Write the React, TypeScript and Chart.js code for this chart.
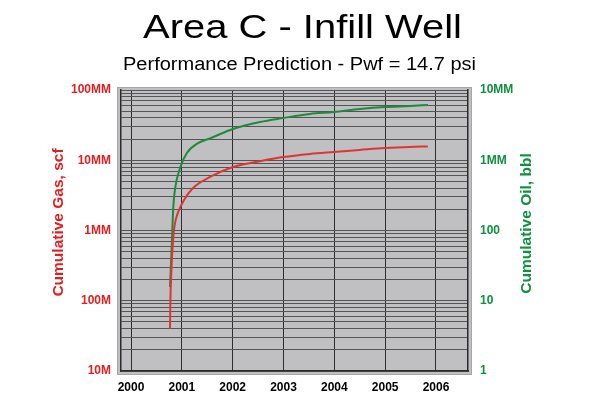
import React, { useEffect, useRef } from 'react';
import { Chart, registerables } from 'chart.js';

Chart.register(...registerables);

// ---------- Text ----------
const TITLE = 'Area C - Infill Well';
const SUBTITLE = 'Performance Prediction - Pwf = 14.7 psi';
const GAS_AXIS_TITLE = 'Cumulative Gas, scf';
const OIL_AXIS_TITLE = 'Cumulative Oil, bbl';

// ---------- Tick labels ----------
const YEAR_TICKS = [2000, 2001, 2002, 2003, 2004, 2005, 2006];
const GAS_TICK_VALUES = [1e4, 1e5, 1e6, 1e7, 1e8];
const GAS_TICK_LABELS = ['10M', '100M', '1MM', '10MM', '100MM'];
const OIL_TICK_VALUES = [1, 10, 100, 1000, 10000];
const OIL_TICK_LABELS = ['1', '10', '100', '1MM', '10MM'];
const MINOR_MULTIPLIERS = [1, 2, 3, 4, 5, 6, 7, 8, 9];

// ---------- Series ----------
const GAS_YEARS = [
  2000.767, 2000.775, 2000.791, 2000.815, 2000.846, 2000.879, 2000.919, 2001.043,
  2001.22, 2001.554, 2002.007, 2002.538, 2002.99, 2003.52, 2003.99, 2004.5,
  2004.99, 2005.48, 2005.84,
];
const GAS_VALUES = [
  4.0e4, 1.02e5, 2.32e5, 5.27e5, 1.02e6, 1.41e6, 1.77e6, 2.72e6,
  4.03e6, 5.78e6, 8.0e6, 9.7e6, 1.11e7, 1.23e7, 1.31e7, 1.4e7,
  1.49e7, 1.55e7, 1.57e7,
];

const OIL_YEARS = [
  2000.767, 2000.787, 2000.813, 2000.832, 2000.866, 2000.964, 2001.096,
  2001.318, 2001.554, 2002.007, 2002.538, 2002.99, 2003.52, 2003.99, 2004.505,
  2004.997, 2005.489, 2005.843,
];
const OIL_VALUES = [
  15.7, 34, 102, 216, 390, 775, 1260,
  1750, 2050, 2790, 3510, 3990, 4560, 4860, 5370,
  5730, 5920, 6110,
];

// ---------- Styles ----------
const FONT = '"Liberation Sans", Arial, Helvetica, sans-serif';
const RED_TEXT = '#e41e1e';
const GREEN_TEXT = '#0d923e';
const RED_LINE = '#e03434';
const GREEN_LINE = '#1f8a3c';
const PLOT_BG = '#c0c0c3';

function gridValues(decades: number[]): number[] {
  const out: number[] = [];
  for (let i = 0; i < decades.length - 1; i++) {
    for (const m of MINOR_MULTIPLIERS) out.push(decades[i] * m);
  }
  out.push(decades[decades.length - 1]);
  return out;
}

function drawStretched(
  ctx: CanvasRenderingContext2D,
  text: string,
  cx: number,
  baseline: number,
  font: string,
  targetWidth: number,
  color: string
) {
  ctx.save();
  ctx.font = font;
  const w = ctx.measureText(text).width;
  const sx = targetWidth / w;
  ctx.translate(cx, baseline);
  ctx.scale(sx, 1);
  ctx.fillStyle = color;
  ctx.textAlign = 'center';
  ctx.textBaseline = 'alphabetic';
  ctx.fillText(text, 0, 0);
  ctx.restore();
}

function drawVertical(
  ctx: CanvasRenderingContext2D,
  text: string,
  cx: number,
  cy: number,
  font: string,
  color: string
) {
  ctx.save();
  ctx.translate(cx, cy);
  ctx.rotate(-Math.PI / 2);
  ctx.font = font;
  ctx.fillStyle = color;
  ctx.textAlign = 'center';
  ctx.textBaseline = 'middle';
  ctx.fillText(text, 0, 0);
  ctx.restore();
}

const decorPlugin = {
  id: 'decor',
  beforeDraw(chart: any) {
    const { ctx, chartArea: a } = chart;
    ctx.save();
    ctx.fillStyle = '#ffffff';
    ctx.fillRect(0, 0, chart.width, chart.height);
    ctx.fillStyle = PLOT_BG;
    ctx.fillRect(a.left - 3, a.top - 2, a.right - a.left + 6, a.bottom - a.top + 5);
    ctx.strokeStyle = '#a6a6a6';
    ctx.lineWidth = 1;
    ctx.strokeRect(a.left - 3.5, a.top - 2.5, a.right - a.left + 7, a.bottom - a.top + 6);
    ctx.restore();
  },
  afterDraw(chart: any) {
    const { ctx } = chart;
    drawStretched(ctx, TITLE, 302.5, 38, `33px ${FONT}`, 319, '#000000');
    drawStretched(ctx, SUBTITLE, 299.5, 70, `18px ${FONT}`, 353, '#000000');
    drawVertical(ctx, GAS_AXIS_TITLE, 59, 222.5, `bold 15.5px ${FONT}`, RED_TEXT);
    drawVertical(ctx, OIL_AXIS_TITLE, 527, 223.5, `bold 15.5px ${FONT}`, GREEN_TEXT);
  },
};

export default function App() {
  const canvasRef = useRef<HTMLCanvasElement | null>(null);

  useEffect(() => {
    if (!canvasRef.current) return;
    const gasData = GAS_YEARS.map((x, i) => ({ x, y: GAS_VALUES[i] }));
    const oilData = OIL_YEARS.map((x, i) => ({ x, y: OIL_VALUES[i] }));

    const chart = new Chart(canvasRef.current, {
      type: 'line',
      data: {
        datasets: [
          {
            label: 'Cumulative Gas',
            data: gasData,
            yAxisID: 'yGas',
            borderColor: RED_LINE,
            borderWidth: 2,
            pointRadius: 0,
            fill: false,
            cubicInterpolationMode: 'monotone',
          },
          {
            label: 'Cumulative Oil',
            data: oilData,
            yAxisID: 'yOil',
            borderColor: GREEN_LINE,
            borderWidth: 2,
            pointRadius: 0,
            fill: false,
            cubicInterpolationMode: 'monotone',
          },
        ],
      },
      options: {
        responsive: false,
        animation: false,
        devicePixelRatio: 1,
        layout: { padding: { top: 90, left: 0, right: 0, bottom: 0 } },
        plugins: {
          legend: { display: false },
          title: { display: false },
          tooltip: { enabled: false },
        },
        scales: {
          x: {
            type: 'linear',
            min: 1999.803,
            max: 2006.63,
            afterBuildTicks: (scale: any) => {
              scale.ticks = YEAR_TICKS.map((v) => ({ value: v }));
            },
            afterFit: (scale: any) => {
              scale.height = 28;
            },
            ticks: {
              autoSkip: false,
              maxRotation: 0,
              padding: 9,
              color: '#000000',
              font: { family: FONT, size: 12, weight: 'bold' },
              callback: (v: any) => String(v),
            },
            grid: { color: '#2e2e2e', lineWidth: 1, drawTicks: false },
            border: { display: true, color: '#2a2a2a', width: 1.5 },
          },
          yGas: {
            type: 'logarithmic',
            position: 'left',
            min: GAS_TICK_VALUES[0],
            max: GAS_TICK_VALUES[GAS_TICK_VALUES.length - 1],
            afterBuildTicks: (scale: any) => {
              scale.ticks = gridValues(GAS_TICK_VALUES).map((v) => ({ value: v }));
            },
            afterFit: (scale: any) => {
              scale.width = 121;
            },
            ticks: {
              autoSkip: false,
              padding: 10,
              color: RED_TEXT,
              font: { family: FONT, size: 12, weight: 'bold' },
              callback: (v: any) => {
                const i = GAS_TICK_VALUES.findIndex((d) => Math.abs(d - v) / d < 1e-6);
                return i >= 0 ? GAS_TICK_LABELS[i] : '';
              },
            },
            grid: { color: '#555555', lineWidth: 1, drawTicks: false },
            border: { display: true, color: '#2a2a2a', width: 1.5 },
          },
          yOil: {
            type: 'logarithmic',
            position: 'right',
            min: OIL_TICK_VALUES[0],
            max: OIL_TICK_VALUES[OIL_TICK_VALUES.length - 1],
            afterBuildTicks: (scale: any) => {
              scale.ticks = OIL_TICK_VALUES.map((v) => ({ value: v }));
            },
            afterFit: (scale: any) => {
              scale.width = 132;
            },
            ticks: {
              autoSkip: false,
              padding: 12,
              color: GREEN_TEXT,
              font: { family: FONT, size: 12, weight: 'bold' },
              callback: (v: any) => {
                const i = OIL_TICK_VALUES.findIndex((d) => Math.abs(d - v) / d < 1e-6);
                return i >= 0 ? OIL_TICK_LABELS[i] : '';
              },
            },
            grid: { drawOnChartArea: false, drawTicks: false },
            border: { display: true, color: '#2a2a2a', width: 1.5 },
          },
        },
      },
      plugins: [decorPlugin],
    } as any);

    return () => chart.destroy();
  }, []);

  return (
    <canvas
      ref={canvasRef}
      width={600}
      height={399}
      style={{ position: 'absolute', left: 0, top: 0, display: 'block' }}
    />
  );
}
